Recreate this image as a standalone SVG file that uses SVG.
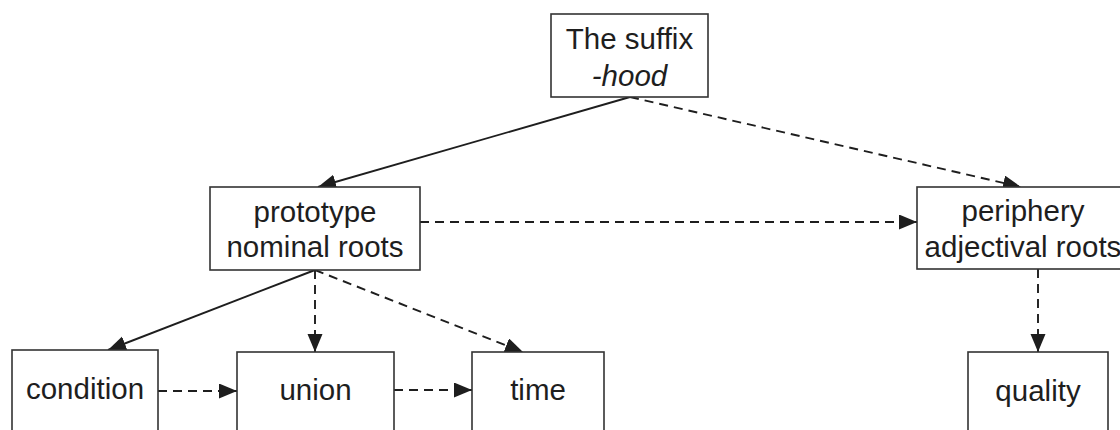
<svg xmlns="http://www.w3.org/2000/svg" width="1120" height="430" viewBox="0 0 1120 430">
<style>
.box{fill:#fff;stroke:#333;stroke-width:1.6}
.t{font-family:"Liberation Sans",Arial,sans-serif;font-size:29.5px;fill:#1e1e1e;text-anchor:middle}
.it{font-style:italic}
.c{fill:none;stroke:#1e1e1e;stroke-width:1.9}
.d{stroke-dasharray:9 6}
</style>
<defs>
<marker id="ah" markerUnits="userSpaceOnUse" markerWidth="20" markerHeight="16" refX="18" refY="7.5" orient="auto">
<path d="M0,0 L18,7.5 L0,15 z" fill="#1e1e1e" stroke="none"/>
</marker>
</defs>
<g id="connectors">
<line class="c" x1="630" y1="97" x2="318" y2="187" marker-end="url(#ah)"/>
<line class="c d" x1="630" y1="97" x2="1021" y2="187" marker-end="url(#ah)"/>
<line class="c d" x1="420" y1="222" x2="917" y2="222" marker-end="url(#ah)"/>
<line class="c" x1="315" y1="270" x2="108" y2="350" marker-end="url(#ah)"/>
<line class="c d" x1="315" y1="270" x2="315" y2="352" marker-end="url(#ah)"/>
<line class="c d" x1="315" y1="270" x2="523" y2="352" marker-end="url(#ah)"/>
<line class="c d" x1="158" y1="391" x2="237" y2="391" marker-end="url(#ah)"/>
<line class="c d" x1="394" y1="390" x2="472" y2="390" marker-end="url(#ah)"/>
<line class="c d" x1="1038" y1="269" x2="1038" y2="352" marker-end="url(#ah)"/>
</g>
<g id="suffix">
<rect class="box" x="551" y="14" width="157" height="83"/>
<text class="t" x="629.5" y="49">The suffix</text>
<text class="t it" x="629.5" y="86">-hood</text>
</g>
<g id="prototype">
<rect class="box" x="210" y="187" width="210" height="83"/>
<text class="t" x="315" y="222">prototype</text>
<text class="t" x="315" y="257">nominal roots</text>
</g>
<g id="periphery">
<rect class="box" x="917" y="187" width="215" height="82"/>
<text class="t" x="1023" y="221">periphery</text>
<text class="t" x="1023" y="257">adjectival roots</text>
</g>
<g id="condition">
<rect class="box" x="12" y="350" width="146" height="95"/>
<text class="t" x="85" y="399">condition</text>
</g>
<g id="union">
<rect class="box" x="237" y="352" width="157" height="95"/>
<text class="t" x="315.5" y="400">union</text>
</g>
<g id="time">
<rect class="box" x="472" y="352" width="132" height="95"/>
<text class="t" x="538" y="400">time</text>
</g>
<g id="quality">
<rect class="box" x="968" y="352" width="140" height="95"/>
<text class="t" x="1038" y="401">quality</text>
</g>
</svg>
